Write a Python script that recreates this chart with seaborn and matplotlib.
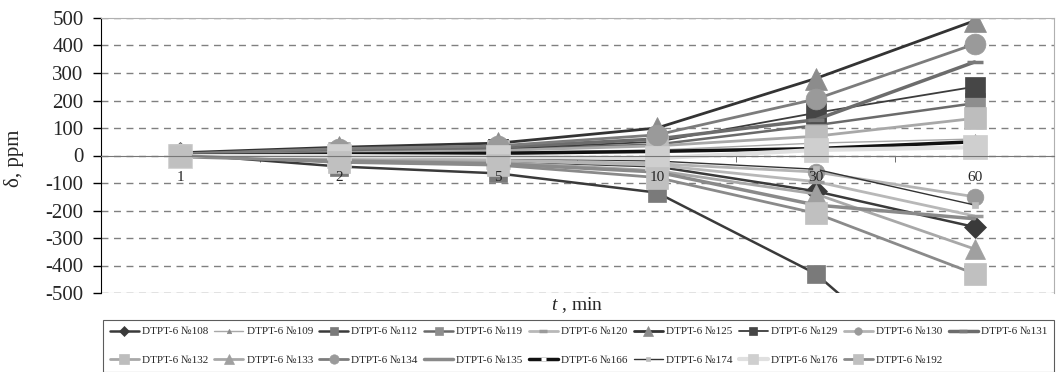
import pandas as pd
import matplotlib.pyplot as plt
import seaborn as sns

# === Data ===
times = ["1", "2", "5", "10", "30", "60"]
y_ticks = [-500, -400, -300, -200, -100, 0, 100, 200, 300, 400, 500]

delta_108 = [8, -12, -20, -40, -130, -260]
delta_109 = [3, 10, 12, 20, 45, 60]
delta_112 = [5, -40, -65, -135, -430, -930]
delta_119 = [2, 12, 22, 40, 110, 190]
delta_120 = [0, -10, -18, -35, -95, -220]
delta_125 = [10, 30, 45, 100, 280, 490]
delta_129 = [5, 12, 25, 50, 155, 250]
delta_130 = [-3, -8, -15, -30, -60, -150]
delta_131 = [4, 20, 30, 60, 130, 340]
delta_132 = [2, 10, 18, 35, 70, 135]
delta_133 = [-2, -15, -25, -55, -140, -340]
delta_134 = [6, 25, 35, 75, 205, 405]
delta_135 = [-4, -20, -30, -60, -180, -230]
delta_166 = [1, 5, 8, 15, 25, 50]
delta_174 = [0, -5, -10, -20, -50, -180]
delta_176 = [-1, -2, -5, -10, 20, 30]
delta_192 = [0, -25, -35, -80, -210, -430]

series = {
    "DTPT-6 №108": delta_108, "DTPT-6 №109": delta_109, "DTPT-6 №112": delta_112,
    "DTPT-6 №119": delta_119, "DTPT-6 №120": delta_120, "DTPT-6 №125": delta_125,
    "DTPT-6 №129": delta_129, "DTPT-6 №130": delta_130, "DTPT-6 №131": delta_131,
    "DTPT-6 №132": delta_132, "DTPT-6 №133": delta_133, "DTPT-6 №134": delta_134,
    "DTPT-6 №135": delta_135, "DTPT-6 №166": delta_166, "DTPT-6 №174": delta_174,
    "DTPT-6 №176": delta_176, "DTPT-6 №192": delta_192,
}

df = pd.concat(
    [pd.DataFrame({"t": times, "delta": vals, "sample": name}) for name, vals in series.items()],
    ignore_index=True,
)

# === Styles: (line colour, line width, marker, marker colour, marker size) ===
styles = {
    "DTPT-6 №108": ("#3a3a3a", 1.8, "D", "#3a3a3a", 11),
    "DTPT-6 №109": ("#a8a8a8", 1.0, "^", "#8a8a8a", 7),
    "DTPT-6 №112": ("#3a3a3a", 1.8, "s", "#7a7a7a", 13),
    "DTPT-6 №119": ("#6a6a6a", 1.8, "s", "#8e8e8e", 14),
    "DTPT-6 №120": ("#b8b8b8", 2.0, "_", "#9a9a9a", 12),
    "DTPT-6 №125": ("#333333", 2.0, "^", "#8c8c8c", 16),
    "DTPT-6 №129": ("#3c3c3c", 1.3, "s", "#464646", 14),
    "DTPT-6 №130": ("#b4b4b4", 2.0, "o", "#9a9a9a", 12),
    "DTPT-6 №131": ("#6c6c6c", 2.5, "_", "#7a7a7a", 12),
    "DTPT-6 №132": ("#a8a8a8", 2.0, "s", "#bdbdbd", 16),
    "DTPT-6 №133": ("#a8a8a8", 2.0, "^", "#a0a0a0", 15),
    "DTPT-6 №134": ("#7c7c7c", 2.0, "o", "#9a9a9a", 15),
    "DTPT-6 №135": ("#8a8a8a", 2.5, None, "#8a8a8a", 0),
    "DTPT-6 №166": ("#111111", 2.5, "_", "#ffffff", 8),
    "DTPT-6 №174": ("#333333", 1.0, "s", "#bcbcbc", 5),
    "DTPT-6 №176": ("#e0e0e0", 3.0, "s", "#cfcfcf", 17),
    "DTPT-6 №192": ("#8a8a8a", 2.0, "s", "#c0c0c0", 16),
}

# === Figure ===
sns.set_style("white")
plt.rcParams["font.family"] = ["Liberation Serif", "DejaVu Serif"]
plt.rcParams["mathtext.fontset"] = "custom"
plt.rcParams["mathtext.it"] = "Liberation Serif:italic"
plt.rcParams["mathtext.rm"] = "Liberation Serif"

fig = plt.figure(figsize=(10.56, 3.72), dpi=100)
ax = fig.add_axes([101 / 1056, 79 / 372, 953 / 1056, 275 / 372])

for name in series:
    lc, lw, mk, mc, ms = styles[name]
    sub = df[df["sample"] == name]
    sns.lineplot(data=sub, x="t", y="delta", sort=False, estimator=None, ax=ax,
                 color=lc, linewidth=lw, marker=mk, markersize=ms,
                 markerfacecolor=mc, markeredgecolor=mc,
                 markeredgewidth=2.5 if mk == "_" else 0.5,
                 label=name, legend=False)

ax.set_xlim(-0.5, len(times) - 0.5)
ax.set_ylim(-500, 500)

# y axis
ax.set_yticks(y_ticks)
ax.set_yticklabels([str(v) for v in y_ticks], fontsize=15)
ax.tick_params(axis="y", direction="out", length=5.5, width=1, color="black", pad=7, left=True)
ax.yaxis.grid(True, linestyle=(0, (5, 4)), color="#808080", linewidth=1)
ax.set_axisbelow(True)
ax.set_ylabel("δ, ppm", fontsize=15)
ax.yaxis.set_label_coords(-0.081, 0.49)

# x axis crossing at zero, category labels sit just below it
ax.spines["bottom"].set_position(("data", 0))
ax.spines["bottom"].set_color("#777777")
ax.spines["left"].set_color("black")
ax.spines["top"].set_color("#b0b0b0")
ax.spines["right"].set_color("#b0b0b0")
ax.axhline(-500, color="#b0b0b0", linewidth=0.8, zorder=0)
ax.set_xticks(range(len(times)))
ax.set_xticklabels([])
ax.set_xticks([i + 0.5 for i in range(len(times))], minor=True)
ax.tick_params(axis="x", which="major", length=0)
ax.tick_params(axis="x", which="minor", length=4, direction="out", color="#555555", bottom=True)
ax.set_xlabel("")
for i, t in enumerate(times):
    ax.annotate(t, xy=(i, 0), xytext=(0, -16), textcoords="offset points",
                ha="center", va="center", fontsize=11, zorder=10)

fig.text(577 / 1056, 1 - 305 / 372, "$t$ , min", ha="center", va="center", fontsize=14)

# legend, filled row by row like the original
handles, labels = ax.get_legend_handles_labels()
ncol = 9
row1, row2 = list(range(ncol)), list(range(ncol, len(handles)))
order = []
for j in range(ncol):
    order.append(row1[j])
    if j < len(row2):
        order.append(row2[j])
leg = fig.legend([handles[k] for k in order], [labels[k] for k in order], ncol=ncol,
                 loc="upper left",
                 bbox_to_anchor=(103 / 1056, 1 - 371 / 372, 951 / 1056, 51 / 372),
                 mode="expand", fontsize=8, markerscale=0.45, handlelength=2.6,
                 handletextpad=0.3, columnspacing=0.4, labelspacing=1.7,
                 frameon=True, fancybox=False, borderpad=0.6, borderaxespad=0)
leg.get_frame().set_edgecolor("#333333")
leg.get_frame().set_linewidth(0.8)

plt.savefig("out.png", dpi=100)
plt.close()
